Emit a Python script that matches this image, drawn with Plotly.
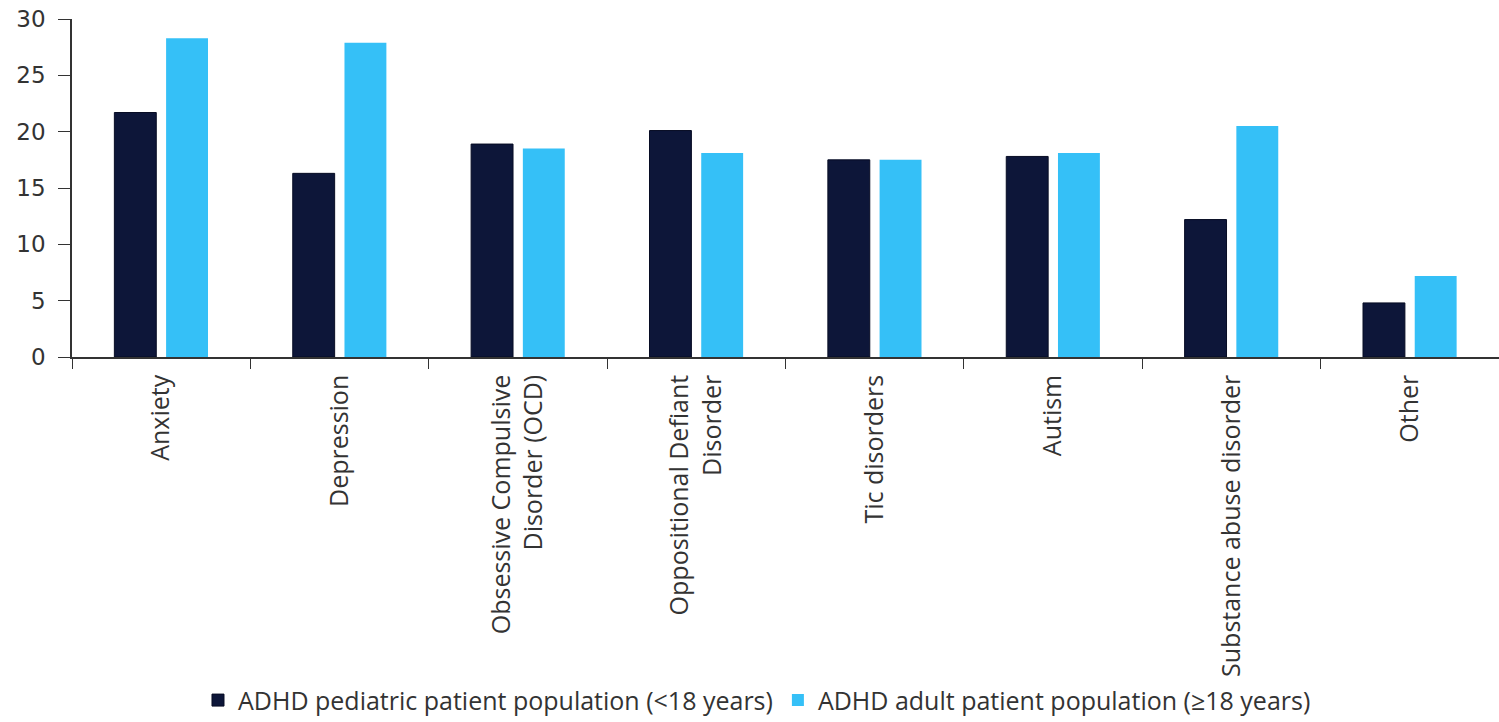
import plotly.graph_objects as go

categories = ["Anxiety", "Depression", "Obsessive Compulsive<br>Disorder (OCD)",
              "Oppositional Defiant<br>Disorder", "Tic disorders", "Autism",
              "Substance abuse disorder", "Other"]
pediatric = [21.7, 16.3, 18.9, 20.1, 17.5, 17.8, 12.2, 4.8]
adult = [28.3, 27.9, 18.5, 18.1, 17.5, 18.1, 20.5, 7.2]
series_names = ["ADHD pediatric patient population (<18 years)",
                "ADHD adult patient population (≥18 years)"]
y_ticks = [0, 5, 10, 15, 20, 25, 30]

fig = go.Figure()
fig.add_trace(go.Bar(x=categories, y=pediatric, name=series_names[0],
                     marker=dict(color="#0d1639", line=dict(color="#070c24", width=1))))
fig.add_trace(go.Bar(x=categories, y=adult, name=series_names[1],
                     marker=dict(color="#35c0f7", line=dict(width=0))))

fig.update_layout(
    width=1499, height=722,
    margin=dict(l=72, r=0, t=19, b=365),
    paper_bgcolor="white", plot_bgcolor="white",
    barmode="group", bargap=0.42, bargroupgap=0.19,
    font=dict(family="Open Sans", color="#333333"),
    showlegend=True,
    legend=dict(orientation="h", xref="container", x=0.505, xanchor="center",
                yref="container", y=0.03, yanchor="middle",
                bgcolor="rgba(0,0,0,0)",
                font=dict(size=25, family="Open Sans", color="#333333"),
                itemwidth=30, tracegroupgap=0),
    xaxis=dict(showline=True, linecolor="#333333", linewidth=1.5,
               ticks="outside", tickson="boundaries", ticklen=10, tickcolor="#333333",
               tickangle=-90, ticklabelstandoff=6, automargin=False,
               tickfont=dict(size=25, family="Open Sans", color="#333333"),
               showgrid=False, zeroline=False, fixedrange=True),
    yaxis=dict(range=[0, 30], tickvals=y_ticks, showline=True, linecolor="#333333",
               linewidth=1.5, ticks="outside", ticklen=12, tickcolor="#333333",
               ticklabelstandoff=8, automargin=False,
               tickfont=dict(size=23, family="DejaVu Sans", color="#333333"),
               showgrid=False, zeroline=False),
)

fig.write_html("out.html")
